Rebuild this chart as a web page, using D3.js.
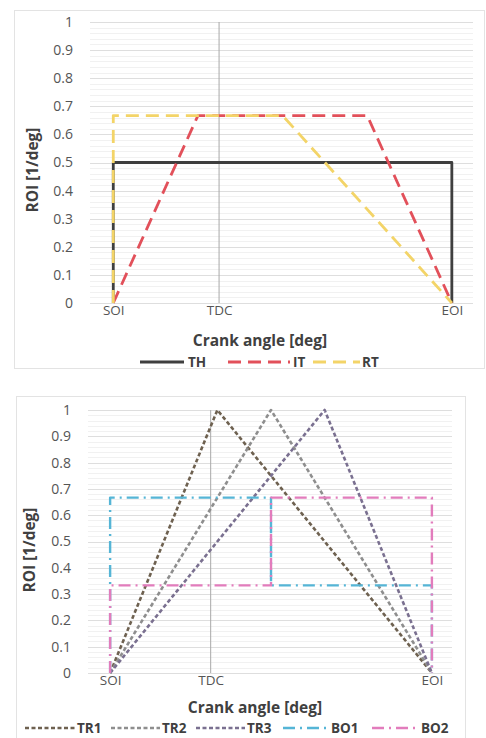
<!DOCTYPE html>
<html><head><meta charset="utf-8">
<script src="https://cdn.jsdelivr.net/npm/d3@7"></script>
<style>
body{margin:0;background:#fff;}
svg{display:block;font-family:"Open Sans","Liberation Sans",sans-serif;}
</style></head>
<body><svg id="c" width="486" height="738"></svg>
<script>
// ---- data ----
const xTickLabels = ["SOI", "TDC", "EOI"];
const xTickValues = [0, 15, 48];
const yTicks = [0, 0.1, 0.2, 0.3, 0.4, 0.5, 0.6, 0.7, 0.8, 0.9, 1];

const TH_x = [0, 0, 48, 48], TH_y = [0, 0.5, 0.5, 0];
const IT_x = [0, 12, 36, 48], IT_y = [0, 0.667, 0.667, 0];
const RT_x = [0, 0, 24, 48], RT_y = [0, 0.667, 0.667, 0];

const TR1_x = [0, 16, 48], TR1_y = [0, 1, 0];
const TR2_x = [0, 24, 48], TR2_y = [0, 1, 0];
const TR3_x = [0, 32, 48], TR3_y = [0, 1, 0];
const BO1_x = [0, 0, 24, 24, 48, 48], BO1_y = [0, 0.667, 0.667, 0.333, 0.333, 0];
const BO2_x = [0, 0, 24, 24, 48, 48], BO2_y = [0, 0.333, 0.333, 0.667, 0.667, 0];

const topSeries = [
  {name: "TH", x: TH_x, y: TH_y, color: "#3f3f3f", dash: null, w: 2.8},
  {name: "IT", x: IT_x, y: IT_y, color: "#e2505a", dash: "13,7", w: 2.8},
  {name: "RT", x: RT_x, y: RT_y, color: "#f3d468", dash: "13,7", w: 2.8}
];
const botSeries = [
  {name: "TR1", x: TR1_x, y: TR1_y, color: "#6e6150", dash: "4,2.5", w: 2.6},
  {name: "TR2", x: TR2_x, y: TR2_y, color: "#8e8e8e", dash: "4,2.5", w: 2.6},
  {name: "TR3", x: TR3_x, y: TR3_y, color: "#7a7090", dash: "4,2.5", w: 2.6},
  {name: "BO1", x: BO1_x, y: BO1_y, color: "#55b5d6", dash: "12,5,2,5", w: 2.4},
  {name: "BO2", x: BO2_x, y: BO2_y, color: "#e27cbc", dash: "12,5,2,5", w: 2.4}
];

const svg = d3.select("#c");

function panel(cfg) {
  const g = svg.append("g");
  g.append("rect").attr("x", cfg.frame[0]).attr("y", cfg.frame[1])
    .attr("width", cfg.frame[2]).attr("height", cfg.frame[3])
    .attr("fill", "#fff").attr("stroke", "#e3e3e3").attr("stroke-width", 1);
  const x = d3.scaleLinear().domain([-3.3, 51]).range(cfg.xr);
  const y = d3.scaleLinear().domain([0, 1]).range(cfg.yr);
  const minor = d3.range(0, 1.0001, 0.02);
  g.selectAll(".mg").data(minor).enter().append("line")
    .attr("x1", cfg.xr[0]).attr("x2", cfg.xr[1])
    .attr("y1", d => Math.round(y(d)) + 0.5).attr("y2", d => Math.round(y(d)) + 0.5)
    .attr("stroke", "#f1f1f1").attr("stroke-width", 1);
  g.selectAll(".gl").data(yTicks).enter().append("line")
    .attr("x1", cfg.xr[0]).attr("x2", cfg.xr[1])
    .attr("y1", d => Math.round(y(d)) + 0.5).attr("y2", d => Math.round(y(d)) + 0.5)
    .attr("stroke", "#dedede").attr("stroke-width", 1);
  g.append("line").attr("x1", x(xTickValues[1])).attr("x2", x(xTickValues[1]))
    .attr("y1", y(1)).attr("y2", y(0)).attr("stroke", "#a8a8a8").attr("stroke-width", 1);
  const ya = d3.axisLeft(y).tickValues(yTicks).tickSize(0).tickPadding(0)
    .tickFormat(d => d3.format("")(+d.toFixed(1)));
  const yg = g.append("g").attr("transform", `translate(${cfg.ylabX},0)`).call(ya);
  yg.select(".domain").remove();
  yg.selectAll("text").attr("fill", "#555").attr("font-size", 14).attr("font-family", "Open Sans, sans-serif");
  const xa = d3.axisBottom(x).tickValues(xTickValues).tickSize(0).tickPadding(0)
    .tickFormat((d, i) => xTickLabels[i]);
  const xg = g.append("g").attr("transform", `translate(0,${cfg.xlabY})`).call(xa);
  xg.select(".domain").remove();
  xg.selectAll("text").attr("fill", "#555").attr("font-size", 13.5).attr("font-family", "Open Sans, sans-serif");
  const line = d3.line().x(d => x(d[0])).y(d => y(d[1]));
  cfg.series.forEach(s => {
    const pts = s.x.map((v, i) => [v, s.y[i]]);
    g.append("path").attr("d", line(pts)).attr("fill", "none")
      .attr("stroke", s.color).attr("stroke-width", s.w)
      .attr("stroke-dasharray", s.dash).attr("stroke-linejoin", "round");
  });
  g.append("text").attr("x", cfg.xt[0]).attr("y", cfg.xt[1]).attr("text-anchor", "middle")
    .attr("font-size", 15.5).attr("font-weight", "bold").attr("fill", "#404040").text("Crank angle [deg]");
  g.append("text").attr("transform", `translate(${cfg.yt[0]},${cfg.yt[1]}) rotate(-90)`)
    .attr("text-anchor", "middle").attr("font-size", 15.5).attr("font-weight", "bold")
    .attr("fill", "#404040").text("ROI [1/deg]");
  cfg.series.forEach((s, i) => {
    const L = cfg.legend[i];
    g.append("line").attr("x1", L[0]).attr("x2", L[1]).attr("y1", cfg.legY).attr("y2", cfg.legY)
      .attr("stroke", s.color).attr("stroke-width", s.w).attr("stroke-dasharray", s.dash);
    g.append("text").attr("x", L[2]).attr("y", cfg.legY + 5).attr("font-size", 13.5)
      .attr("font-weight", "bold").attr("fill", "#404040").text(s.name);
  });
}

panel({
  frame: [14.5, 10.5, 470, 358],
  xr: [90, 473], yr: [303, 22],
  ylabX: 73, xlabY: 305,
  xt: [260, 346], yt: [38, 170],
  series: topSeries,
  legY: 362,
  legend: [[140, 184, 188], [228, 290, 293], [313, 360, 362]]
});

panel({
  frame: [16.5, 396.5, 449, 345],
  xr: [88, 452], yr: [673, 410],
  ylabX: 71, xlabY: 675,
  xt: [255, 713], yt: [35, 550],
  series: botSeries,
  legY: 728,
  legend: [[25, 75, 77], [111, 160, 162], [196, 245, 247], [283, 326, 331], [372, 416, 421]]
});
</script></body></html>
